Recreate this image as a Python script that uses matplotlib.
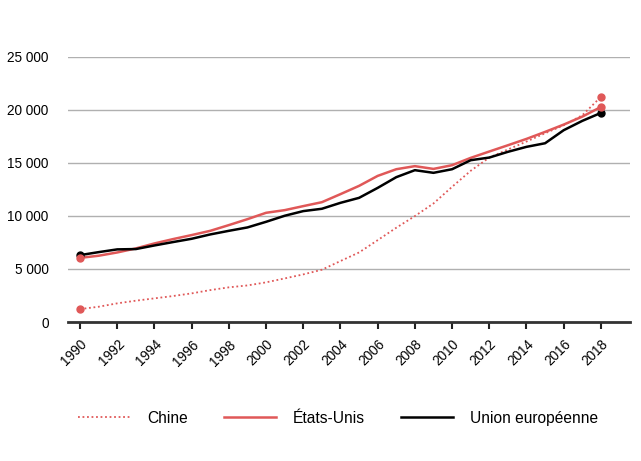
import matplotlib
matplotlib.use("Agg")
import matplotlib.pyplot as plt

# Données (milliards)
annees = list(range(1990, 2019))

chine = [1220, 1440, 1760, 2010, 2230, 2450, 2700, 3010, 3270, 3450,
         3740, 4110, 4490, 4930, 5750, 6560, 7720, 8890, 9990, 11180,
         12750, 14260, 15510, 16270, 17020, 17800, 18560, 19500, 21230]

etats_unis = [6050, 6250, 6560, 6940, 7410, 7820, 8200, 8600, 9140, 9700,
              10300, 10550, 10930, 11300, 12060, 12840, 13780, 14410, 14700, 14440,
              14790, 15480, 16080, 16670, 17270, 17930, 18620, 19370, 20280]

union_europeenne = [6310, 6590, 6850, 6880, 7220, 7540, 7850, 8260, 8600, 8920,
                    9450, 10020, 10460, 10680, 11240, 11710, 12650, 13660, 14320, 14070,
                    14410, 15260, 15510, 16050, 16520, 16860, 18090, 18970, 19720]

y_ticks = [0, 5000, 10000, 15000, 20000, 25000]
y_labels = ["0", "5 000", "10 000", "15 000", "20 000", "25 000"]
x_ticks = list(range(1990, 2019, 2))

rouge = "#e05858"
plt.rcParams['font.family'] = ['Liberation Sans', 'DejaVu Sans']

fig = plt.figure(figsize=(6.41, 4.61), dpi=100)
ax = fig.add_axes([0.106, 0.3015, 0.877, 0.575])

ax.plot(annees, chine, color=rouge, lw=1.3, ls=(0, (1, 1.5)), label="Chine")
ax.plot(annees, etats_unis, color=rouge, lw=1.8, label="États-Unis")
ax.plot(annees, union_europeenne, color="black", lw=1.8, label="Union européenne")

# points de début et de fin
for serie, c in [(chine, rouge), (union_europeenne, "black"), (etats_unis, rouge)]:
    ax.plot([annees[0], annees[-1]], [serie[0], serie[-1]], "o", color=c,
            ms=5, zorder=5)

ax.set_xlim(1989.35, 2019.57)
ax.set_ylim(0, 25000)
ax.set_yticks(y_ticks)
ax.set_yticklabels(y_labels, fontsize=9.8)
ax.set_xticks(x_ticks)
ax.set_xticklabels([str(a) for a in x_ticks], rotation=45, ha="right",
                   rotation_mode="anchor", fontsize=9.8)

ax.yaxis.grid(True, color="#b0b0b0", lw=1)
ax.set_axisbelow(True)
for s in ["top", "right", "left"]:
    ax.spines[s].set_visible(False)
ax.spines["bottom"].set_color("#333333")
ax.spines["bottom"].set_linewidth(2)
ax.tick_params(axis="y", length=0, pad=14)
ax.tick_params(axis="x", length=5, width=1.5, color="#222222", pad=6)

fig.legend(loc="center", bbox_to_anchor=(0.527, 0.093), ncol=3, frameon=False,
           fontsize=11.2, handlelength=3.35, handletextpad=1.1, columnspacing=2.3)

fig.savefig("out.png", dpi=100)
